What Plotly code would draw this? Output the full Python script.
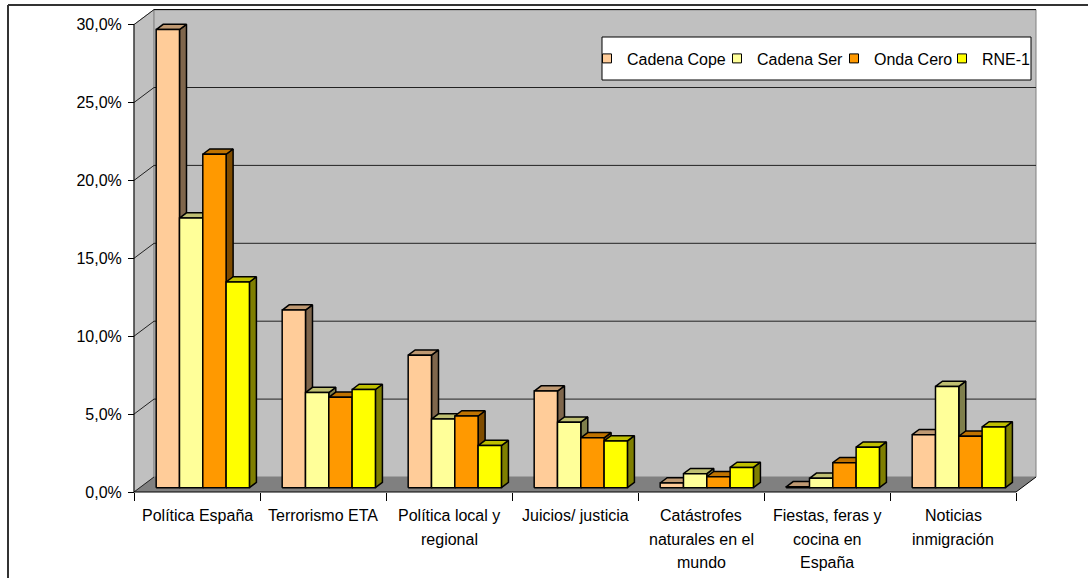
import plotly.graph_objects as go

# ---------------- data ----------------
categories = [
    "Política España",
    "Terrorismo ETA",
    "Política local y<br>regional",
    "Juicios/ justicia",
    "Catástrofes<br>naturales en el<br>mundo",
    "Fiestas, feras y<br>cocina en<br>España",
    "Noticias<br>inmigración",
]
series_names = ["Cadena Cope", "Cadena Ser", "Onda Cero", "RNE-1"]
cope = [29.4, 11.4, 8.5, 6.2, 0.3, 0.05, 3.4]
ser = [17.3, 6.1, 4.4, 4.2, 0.9, 0.6, 6.5]
onda = [21.4, 5.8, 4.6, 3.2, 0.7, 1.6, 3.3]
rne = [13.2, 6.3, 2.7, 3.0, 1.3, 2.6, 3.9]
y_ticks = [0, 5, 10, 15, 20, 25, 30]
y_tick_labels = ["0,0%", "5,0%", "10,0%", "15,0%", "20,0%", "25,0%", "30,0%"]

series_values = [cope, ser, onda, rne]
base_colors = ["#FFCC99", "#FFFF99", "#FF9900", "#FFFF00"]

# ---------------- geometry / style ----------------
W, H = 1088, 578
ML, MR, MT, MB = 130, 48, 6, 82
PW = W - ML - MR
PH = H - MT - MB
PX_X = 126.0      # pixels per category
PX_Y = 15.58      # pixels per percent
X0 = -0.5 - 4 / PX_X
Y0 = -4 / PX_Y
x_range = [X0, X0 + PW / PX_X]
y_range = [Y0, Y0 + PH / PX_Y]
YMAX = y_ticks[-1]
NCAT = len(categories)

DX = 20 / PX_X          # full depth offset (x)
DY = 15 / PX_Y          # full depth offset (y)
F0 = 0.29               # depth fraction of bar front plane
FD = 0.35               # depth fraction of bar thickness
GROUP_W = 0.74
BAR_W = GROUP_W / len(series_names)

FONT = "Liberation Sans, Arial, sans-serif"


def shade(hexcol, f):
    h = hexcol.lstrip("#")
    r, g, b = (int(h[i:i + 2], 16) for i in (0, 2, 4))
    return "#%02X%02X%02X" % (int(r * f), int(g * f), int(b * f))


def px2paper_x(px):
    return (px - ML) / PW


def px2paper_y(py):
    return (H - MB - py) / PH


fig = go.Figure()

bx0 = F0 * DX
by0 = F0 * DY
sdx = FD * DX
sdy = FD * DY

for k, (name, vals, col) in enumerate(zip(series_names, series_values, base_colors)):
    fx, fy, sx, sy, tx, ty = [], [], [], [], [], []
    for i, v in enumerate(vals):
        xl = i + bx0 - GROUP_W / 2 + k * BAR_W
        xr = xl + BAR_W
        y0 = by0
        y1 = by0 + v
        fx += [xl, xr, xr, xl, xl, None]
        fy += [y0, y0, y1, y1, y0, None]
        sx += [xr, xr + sdx, xr + sdx, xr, xr, None]
        sy += [y0, y0 + sdy, y1 + sdy, y1, y0, None]
        tx += [xl, xr, xr + sdx, xl + sdx, xl, None]
        ty += [y1, y1, y1 + sdy, y1 + sdy, y1, None]
    for xs, ys, fc in ((sx, sy, shade(col, 0.5)), (tx, ty, shade(col, 0.75)), (fx, fy, col)):
        fig.add_trace(go.Scatter(
            x=xs, y=ys, mode="lines", fill="toself", fillcolor=fc,
            line=dict(color="black", width=1.5), showlegend=False,
            hoverinfo="skip"))

legend_widths = [85, 72, 63, 45]
for name, col, lw in zip(series_names, base_colors, legend_widths):
    fig.add_trace(go.Scatter(
        x=[None], y=[None], mode="markers", name=name,
        marker=dict(symbol="square", size=9, color=col,
                    line=dict(color="black", width=1)),
        legendwidth=lw))

shapes = []
# side wall
xa, xb = -0.5, -0.5 + DX
shapes.append(dict(type="path", xref="x", yref="y", layer="below",
                   path=f"M{xa},0 L{xb},{DY} L{xb},{YMAX + DY} L{xa},{YMAX} Z",
                   fillcolor="#C0C0C0", line=dict(color="#A0A0A0", width=1)))
# back wall
shapes.append(dict(type="rect", xref="x", yref="y", layer="below",
                   x0=xb, x1=NCAT - 0.5 + DX, y0=DY, y1=YMAX + DY,
                   fillcolor="#C0C0C0", line=dict(color="#808080", width=1)))
# floor
xe = NCAT - 0.5
shapes.append(dict(type="path", xref="x", yref="y", layer="below",
                   path=f"M{xa},0 L{xe},0 L{xe + DX},{DY} L{xb},{DY} Z",
                   fillcolor="#808080", line=dict(width=0)))
# gridlines (side diagonals + back wall horizontals)
for t in y_ticks:
    shapes.append(dict(type="line", xref="x", yref="y", layer="below",
                       x0=xa, y0=t, x1=xb, y1=t + DY,
                       line=dict(color="#222222", width=1)))
    if 0 < t < YMAX:
        shapes.append(dict(type="line", xref="x", yref="y", layer="below",
                           x0=xb, y0=t + DY, x1=xe + DX, y1=t + DY,
                           line=dict(color="#222222", width=1)))
# back wall top edge
shapes.append(dict(type="line", xref="x", yref="y", layer="below",
                   x0=xb, y0=YMAX + DY, x1=xe + DX, y1=YMAX + DY,
                   line=dict(color="black", width=1)))
# front floor edge, right floor edge, value axis line
shapes.append(dict(type="line", xref="x", yref="y", x0=xa, y0=0, x1=xe, y1=0,
                   line=dict(color="black", width=1)))
shapes.append(dict(type="line", xref="x", yref="y", x0=xe, y0=0, x1=xe + DX, y1=DY,
                   line=dict(color="black", width=1)))
shapes.append(dict(type="line", xref="x", yref="y", x0=xa, y0=0, x1=xa, y1=YMAX,
                   line=dict(color="black", width=1)))
# legend box
shapes.append(dict(type="rect", xref="paper", yref="paper",
                   x0=px2paper_x(602), x1=px2paper_x(1031),
                   y0=px2paper_y(80), y1=px2paper_y(37),
                   fillcolor="white", line=dict(color="black", width=1)))
# outer chart border (left and top)
shapes.append(dict(type="line", xref="paper", yref="paper",
                   x0=px2paper_x(8), x1=px2paper_x(8),
                   y0=px2paper_y(5), y1=px2paper_y(590),
                   line=dict(color="#333333", width=2)))
shapes.append(dict(type="line", xref="paper", yref="paper",
                   x0=px2paper_x(8), x1=px2paper_x(1100),
                   y0=px2paper_y(5), y1=px2paper_y(5),
                   line=dict(color="#333333", width=2)))

annotations = []
for i, lab in enumerate(categories):
    for j, line in enumerate(lab.split("<br>")):
        annotations.append(dict(x=i, y=0, xref="x", yref="y", text=line,
                                showarrow=False, xanchor="center", yanchor="middle",
                                yshift=-(23.5 + 23.5 * j),
                                font=dict(family=FONT, size=16, color="black")))

fig.update_layout(
    width=W, height=H,
    margin=dict(l=ML, r=MR, t=MT, b=MB, pad=0),
    paper_bgcolor="white", plot_bgcolor="white",
    separators=",.",
    font=dict(family=FONT, size=16, color="black"),
    showlegend=True,
    legend=dict(orientation="h", x=px2paper_x(587), y=px2paper_y(58.5),
                xanchor="left", yanchor="middle", bgcolor="rgba(0,0,0,0)",
                borderwidth=0, font=dict(family=FONT, size=16, color="black")),
    xaxis=dict(range=x_range, showgrid=False, zeroline=False, showline=False,
               tickmode="array", tickvals=[i - 0.5 for i in range(NCAT + 1)],
               showticklabels=False, ticks="outside", ticklen=8,
               tickcolor="black", tickwidth=1,
               anchor="free", position=4 / PH),
    yaxis=dict(range=y_range, showgrid=False, zeroline=False, showline=False,
               tickmode="array", tickvals=y_ticks, ticktext=y_tick_labels,
               ticks="outside", ticklen=6, tickcolor="black", tickwidth=1,
               ticklabelstandoff=3,
               anchor="free", position=4 / PW,
               tickfont=dict(family=FONT, size=16, color="black")),
    shapes=shapes,
    annotations=annotations,
)

fig.write_html("out.html",
               config={"displayModeBar": False},
               post_script="document.body.style.margin='0';document.body.style.padding='0';")
